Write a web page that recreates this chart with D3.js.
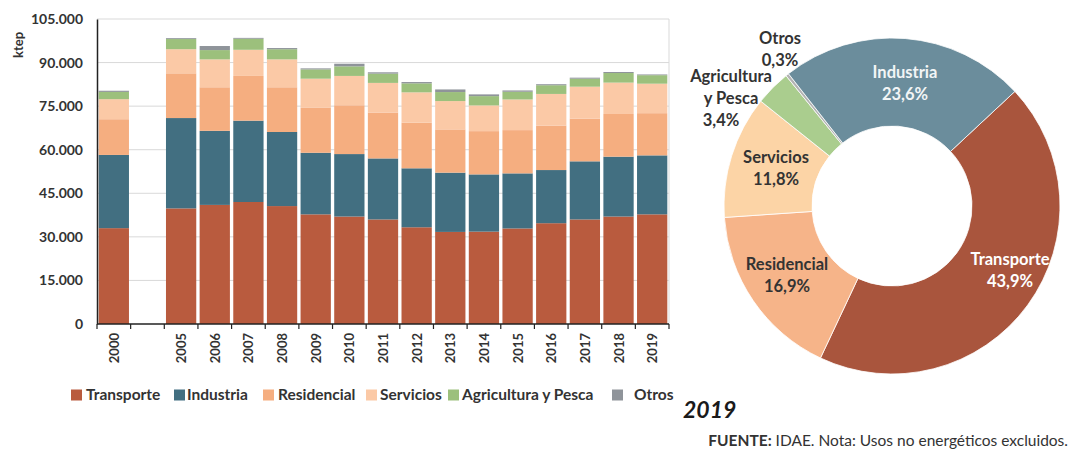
<!DOCTYPE html>
<html>
<head>
<meta charset="utf-8">
<script src="https://cdn.jsdelivr.net/npm/d3@7"></script>
<style>
  html, body { margin: 0; padding: 0; background: #fff; }
  svg { display: block; font-family: Lato, "Open Sans", sans-serif; }
</style>
</head>
<body>
<svg id="chart" width="1071" height="449"></svg>
<script>
// ---------- DATA ----------
const categories = ["2000", "", "2005", "2006", "2007", "2008", "2009", "2010", "2011", "2012",
                    "2013", "2014", "2015", "2016", "2017", "2018", "2019"];
const seriesNames = ["Transporte", "Industria", "Residencial", "Servicios", "Agricultura y Pesca", "Otros"];
const transporte  = [33000, 0, 39800, 41000, 42000, 40600, 37750, 37000, 36000, 33300, 31700, 31800, 32900, 34700, 36000, 37000, 37750];
const industria   = [25200, 0, 31100, 25500, 28000, 25500, 21200, 21500, 21000, 20300, 20400, 19700, 18950, 18300, 20000, 20600, 20300];
const residencial = [12300, 0, 15400, 15000, 15400, 15400, 15600, 16800, 15800, 15700, 14900, 14900, 14900, 15300, 14700, 14700, 14530];
const servicios   = [ 6900, 0,  8300,  9600,  9000,  9600,  9900, 10100, 10200, 10450,  9750,  8850, 10550, 10900, 11000, 10800, 10150];
const agricultura = [ 2500, 0,  3500,  3200,  3800,  3500,  3200,  3300,  3200,  3100,  3100,  3200,  2650,  3000,  2750,  3300,  2920];
const otros       = [  400, 0,   300,  1400,   300,   400,   350,   900,   450,   450,   900,   600,   450,   350,   350,   350,   258];
const yTicks = [0, 15000, 30000, 45000, 60000, 75000, 90000, 105000];

const pieLabels = ["Transporte", "Residencial", "Servicios", "Agricultura y Pesca", "Otros", "Industria"];
const pieValues = [43.9, 16.9, 11.8, 3.4, 0.3, 23.6];
const pieTitle = "2019";
const sourceBold = "FUENTE:";
const sourceText = " IDAE. Nota: Usos no energéticos excluidos.";

// ---------- STYLE ----------
const barColors = ["#b95b3e", "#426f81", "#f5ae80", "#fbc9a6", "#9cc07c", "#8f949a"];
const pieColors = {"Transporte": "#a9553d", "Industria": "#6b8d9c", "Residencial": "#f6b489",
                   "Servicios": "#fcd4a6", "Agricultura y Pesca": "#aacd8e", "Otros": "#b3b3b3"};
const textDark = "#333333";

const svg = d3.select("#chart");
svg.append("rect").attr("width", 1071).attr("height", 449).attr("fill", "#fff");

// ---------- BAR CHART ----------
const plot = {left: 97, right: 669, top: 19, bottom: 324};
const x = d3.scaleBand().domain(categories).range([plot.left, plot.right])
  .paddingInner(0.1).paddingOuter(0.05);
const y = d3.scaleLinear().domain([0, 105000]).range([plot.bottom, plot.top]);

// grid
svg.append("g").selectAll("line").data(yTicks.filter(d => d > 0)).join("line")
  .attr("x1", plot.left).attr("x2", plot.right)
  .attr("y1", d => y(d)).attr("y2", d => y(d))
  .attr("stroke", "#d9d9d9").attr("stroke-width", 1);
// right border
svg.append("line").attr("x1", plot.right).attr("x2", plot.right)
  .attr("y1", plot.top).attr("y2", plot.bottom).attr("stroke", "#d9d9d9");

const rows = categories.map((c, i) => ({
  cat: c, Transporte: transporte[i], Industria: industria[i], Residencial: residencial[i],
  Servicios: servicios[i], "Agricultura y Pesca": agricultura[i], Otros: otros[i]
}));
const stacked = d3.stack().keys(seriesNames)(rows);

svg.append("g").selectAll("g").data(stacked).join("g")
  .attr("fill", (d, i) => barColors[i])
  .selectAll("rect").data(d => d.filter(p => p[1] > p[0])).join("rect")
  .attr("x", d => x(d.data.cat))
  .attr("width", x.bandwidth())
  .attr("y", d => y(d[1]))
  .attr("height", d => y(d[0]) - y(d[1]));

// y axis
const yAxis = d3.axisLeft(y).tickValues(yTicks).tickSize(0).tickPadding(14)
  .tickFormat(d => d3.format(",")(d).replace(/,/g, "."));
const gy = svg.append("g").attr("transform", `translate(${plot.left},0)`).call(yAxis);
gy.select(".domain").attr("stroke", "#222").attr("stroke-width", 1.5);
gy.selectAll("text").attr("font-size", 14).attr("font-weight", "bold").attr("fill", textDark)
  .attr("font-family", "Lato, sans-serif");

// x axis: ticks at slot boundaries, labels rotated at centres
svg.append("line").attr("x1", plot.left).attr("x2", plot.right)
  .attr("y1", plot.bottom).attr("y2", plot.bottom).attr("stroke", "#222").attr("stroke-width", 1.5);
const step = x.step();
const boundaries = d3.range(categories.length + 1).map(i => x(categories[0]) - x.paddingOuter() * step + i * step);
svg.append("g").selectAll("line").data(boundaries).join("line")
  .attr("x1", d => d).attr("x2", d => d)
  .attr("y1", plot.bottom).attr("y2", plot.bottom + 5)
  .attr("stroke", "#222").attr("stroke-width", 1.2);
svg.append("g").selectAll("text").data(categories.filter(c => c !== "")).join("text")
  .attr("transform", d => `translate(${x(d) + x.bandwidth() / 2 + 5},${plot.bottom + 9}) rotate(-90)`)
  .attr("text-anchor", "end")
  .attr("font-size", 13).attr("font-weight", "bold").attr("fill", textDark)
  .text(d => d);

// y title
svg.append("text").attr("transform", "translate(23,45) rotate(-90)")
  .attr("text-anchor", "middle").attr("font-size", 13).attr("font-weight", "bold")
  .attr("fill", textDark).text("ktep");

// legend
const legendX = [71, 174, 263, 366, 448, 612];
const legendGap = [15, 13, 15, 14, 14, 22];
const lg = svg.append("g").selectAll("g").data(seriesNames).join("g")
  .attr("transform", (d, i) => `translate(${legendX[i]},395)`);
lg.append("rect").attr("x", 0).attr("y", -5.5).attr("width", 11).attr("height", 11)
  .attr("fill", (d, i) => barColors[i]);
lg.append("text").attr("x", (d, i) => legendGap[i]).attr("y", 0).attr("dy", "0.35em")
  .attr("font-size", 15.5).attr("font-weight", "bold").attr("fill", textDark)
  .text(d => d);

// ---------- DONUT ----------
const cx = 892, cy = 206, rOuter = 168, rInner = 80;
const deg = Math.PI / 180;
const pie = d3.pie().sort(null).value(d => d.v)
  .startAngle(47 * deg).endAngle(47 * deg + 2 * Math.PI);
const pieData = pie(pieLabels.map((l, i) => ({l, v: pieValues[i]})));
const arc = d3.arc().innerRadius(rInner).outerRadius(rOuter);
const gp = svg.append("g").attr("transform", `translate(${cx},${cy})`);
gp.selectAll("path").data(pieData).join("path")
  .attr("d", arc).attr("fill", d => pieColors[d.data.l])
  .attr("stroke", "#fff").attr("stroke-width", 0.8);

// donut labels
const pieLabelLines = {
  "Transporte": {lines: ["Transporte", "43,9%"], color: "#fff", pos: [1010, 259]},
  "Residencial": {lines: ["Residencial", "16,9%"], color: textDark, pos: [787, 264]},
  "Servicios": {lines: ["Servicios", "11,8%"], color: textDark, pos: [776, 157]},
  "Agricultura y Pesca": {lines: ["Agricultura", "y Pesca", "3,4%"], color: textDark, pos: [731, 76]},
  "Otros": {lines: ["Otros", "0,3%"], color: textDark, pos: [780, 38]},
  "Industria": {lines: ["Industria", "23,6%"], color: "#f2f5f6", pos: [905, 72]}
};
pieData.forEach(d => {
  const info = pieLabelLines[d.data.l];
  const t = svg.append("text").attr("text-anchor", "middle")
    .attr("font-size", 16.5).attr("font-weight", "bold").attr("fill", info.color);
  info.lines.forEach((ln, k) => {
    t.append("tspan").attr("x", info.pos[0] - (d.data.l === "Agricultura y Pesca" && k === 2 ? 10 : 0))
      .attr("y", info.pos[1] + k * 22).attr("dy", "0.35em").text(ln);
  });
});

// title and source
svg.append("text").attr("x", 683).attr("y", 418).attr("font-size", 23)
  .attr("font-weight", "bold").attr("font-style", "italic").attr("fill", "#1a1a1a").text(pieTitle);
const src = svg.append("text").attr("x", 1068).attr("y", 446).attr("text-anchor", "end")
  .attr("font-size", 15.5).attr("fill", textDark);
src.append("tspan").attr("font-weight", "bold").text(sourceBold);
src.append("tspan").text(sourceText);
</script>
</body>
</html>
